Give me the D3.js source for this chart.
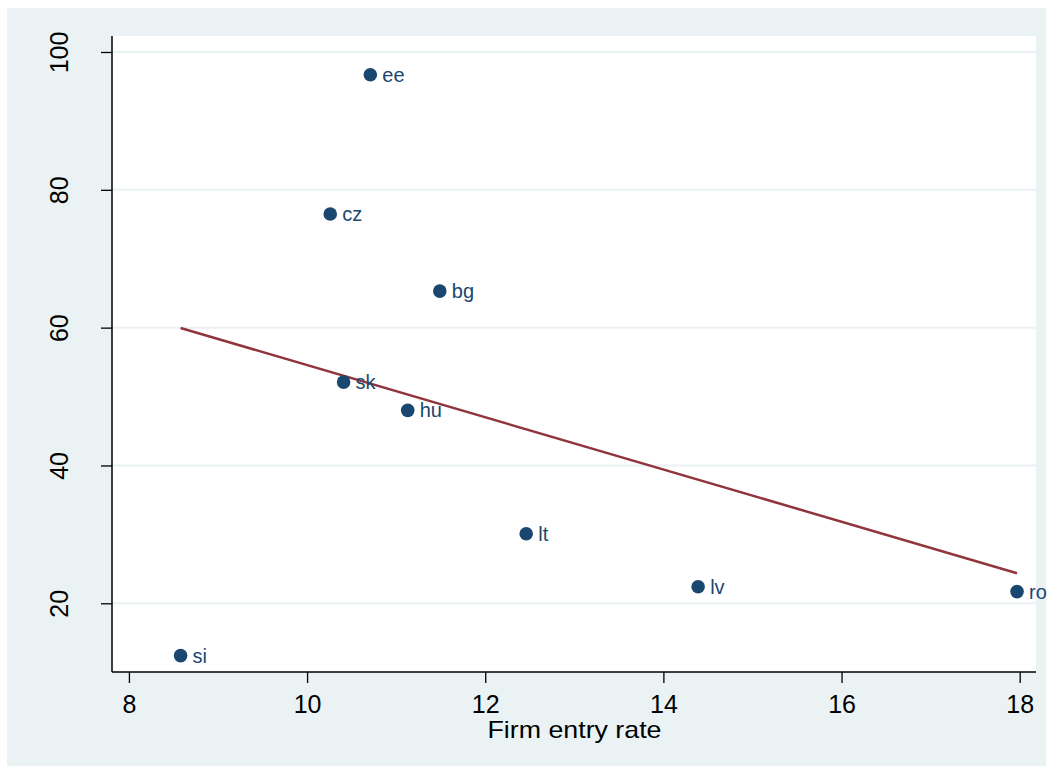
<!DOCTYPE html>
<html><head><meta charset="utf-8">
<script src="https://cdn.jsdelivr.net/npm/d3@7"></script>
<style>html,body{margin:0;padding:0;background:#fff;}svg{display:block;font-family:"Liberation Sans",Arial,sans-serif;}</style>
</head><body>
<svg id="c" width="1053" height="774"></svg>
<script>
const countries = ["ee","cz","bg","sk","hu","lt","lv","ro","si"];
const entryRate = [10.71, 10.26, 11.49, 10.41, 11.13, 12.46, 14.39, 17.97, 8.58];
const yValues   = [96.7, 76.5, 65.3, 52.1, 48.0, 30.1, 22.4, 21.7, 12.4];
const xTicks = [8,10,12,14,16,18];
const yTicks = [20,40,60,80,100];
const xTitle = "Firm entry rate";

const svg = d3.select("#c");
const L=112, R=1036, T=36, B=672;
svg.append("rect").attr("x",7).attr("y",8).attr("width",1039).attr("height",758).attr("fill","#eaf2f3");
svg.append("rect").attr("x",L).attr("y",T).attr("width",R-L).attr("height",B-T).attr("fill","#fff");

const x = d3.scaleLinear().domain([7.81,18.183]).range([L,R]);
const y = d3.scaleLinear().domain([10.03,102.32]).range([B,T]);

// grid
svg.append("g").selectAll("line").data(yTicks).join("line")
  .attr("x1",L).attr("x2",R).attr("y1",d=>y(d)).attr("y2",d=>y(d))
  .attr("stroke","#eaf2f3").attr("stroke-width",2);

// axes
const yAxis = svg.append("g").attr("transform",`translate(${L},0)`)
  .call(d3.axisLeft(y).tickValues(yTicks).tickSize(11).tickPadding(0).tickFormat(d3.format("d")));
yAxis.select(".domain").attr("d",`M0,${T}V${B}`).attr("stroke","#000").attr("stroke-width",1.5);
yAxis.selectAll(".tick line").attr("stroke","#000").attr("stroke-width",1.3);
yAxis.selectAll(".tick text").attr("fill","#000").style("font-size","25px")
  .attr("text-anchor","middle").attr("x",0).attr("dy",0)
  .attr("transform","translate(-44,0) rotate(-90)");

const xAxis = svg.append("g").attr("transform",`translate(0,${B})`)
  .call(d3.axisBottom(x).tickValues(xTicks).tickSize(11).tickPadding(0).tickFormat(d3.format("d")));
xAxis.select(".domain").attr("d",`M${L},0H${R}`).attr("stroke","#000").attr("stroke-width",1.5);
xAxis.selectAll(".tick line").attr("stroke","#000").attr("stroke-width",1.3);
xAxis.selectAll(".tick text").attr("fill","#000").style("font-size","25px")
  .attr("y",41).attr("dy",0);

svg.append("text").attr("x",574.5).attr("y",738).attr("text-anchor","middle")
  .style("font-size","24px").attr("textLength",174).attr("lengthAdjust","spacingAndGlyphs")
  .attr("fill","#000").text(xTitle);

// linear fit
const n = entryRate.length;
const mx = d3.mean(entryRate), my = d3.mean(yValues);
let sxy=0, sxx=0;
for(let i=0;i<n;i++){sxy+=(entryRate[i]-mx)*(yValues[i]-my); sxx+=(entryRate[i]-mx)**2;}
const b = sxy/sxx, a = my - b*mx;
const [x0,x1] = d3.extent(entryRate);
svg.append("line").attr("x1",x(x0)).attr("y1",y(a+b*x0)).attr("x2",x(x1)).attr("y2",y(a+b*x1))
  .attr("stroke","#90353b").attr("stroke-width",2.5);

// points
const data = countries.map((c,i)=>({c, x:entryRate[i], y:yValues[i]}));
svg.append("g").selectAll("circle").data(data).join("circle")
  .attr("cx",d=>x(d.x)).attr("cy",d=>y(d.y)).attr("r",6.8).attr("fill","#1a476f");
svg.append("g").selectAll("text").data(data).join("text")
  .attr("x",d=>x(d.x)+12).attr("y",d=>y(d.y)+7).attr("fill","#1a476f")
  .style("font-size","20px").text(d=>d.c);
</script>
</body></html>
